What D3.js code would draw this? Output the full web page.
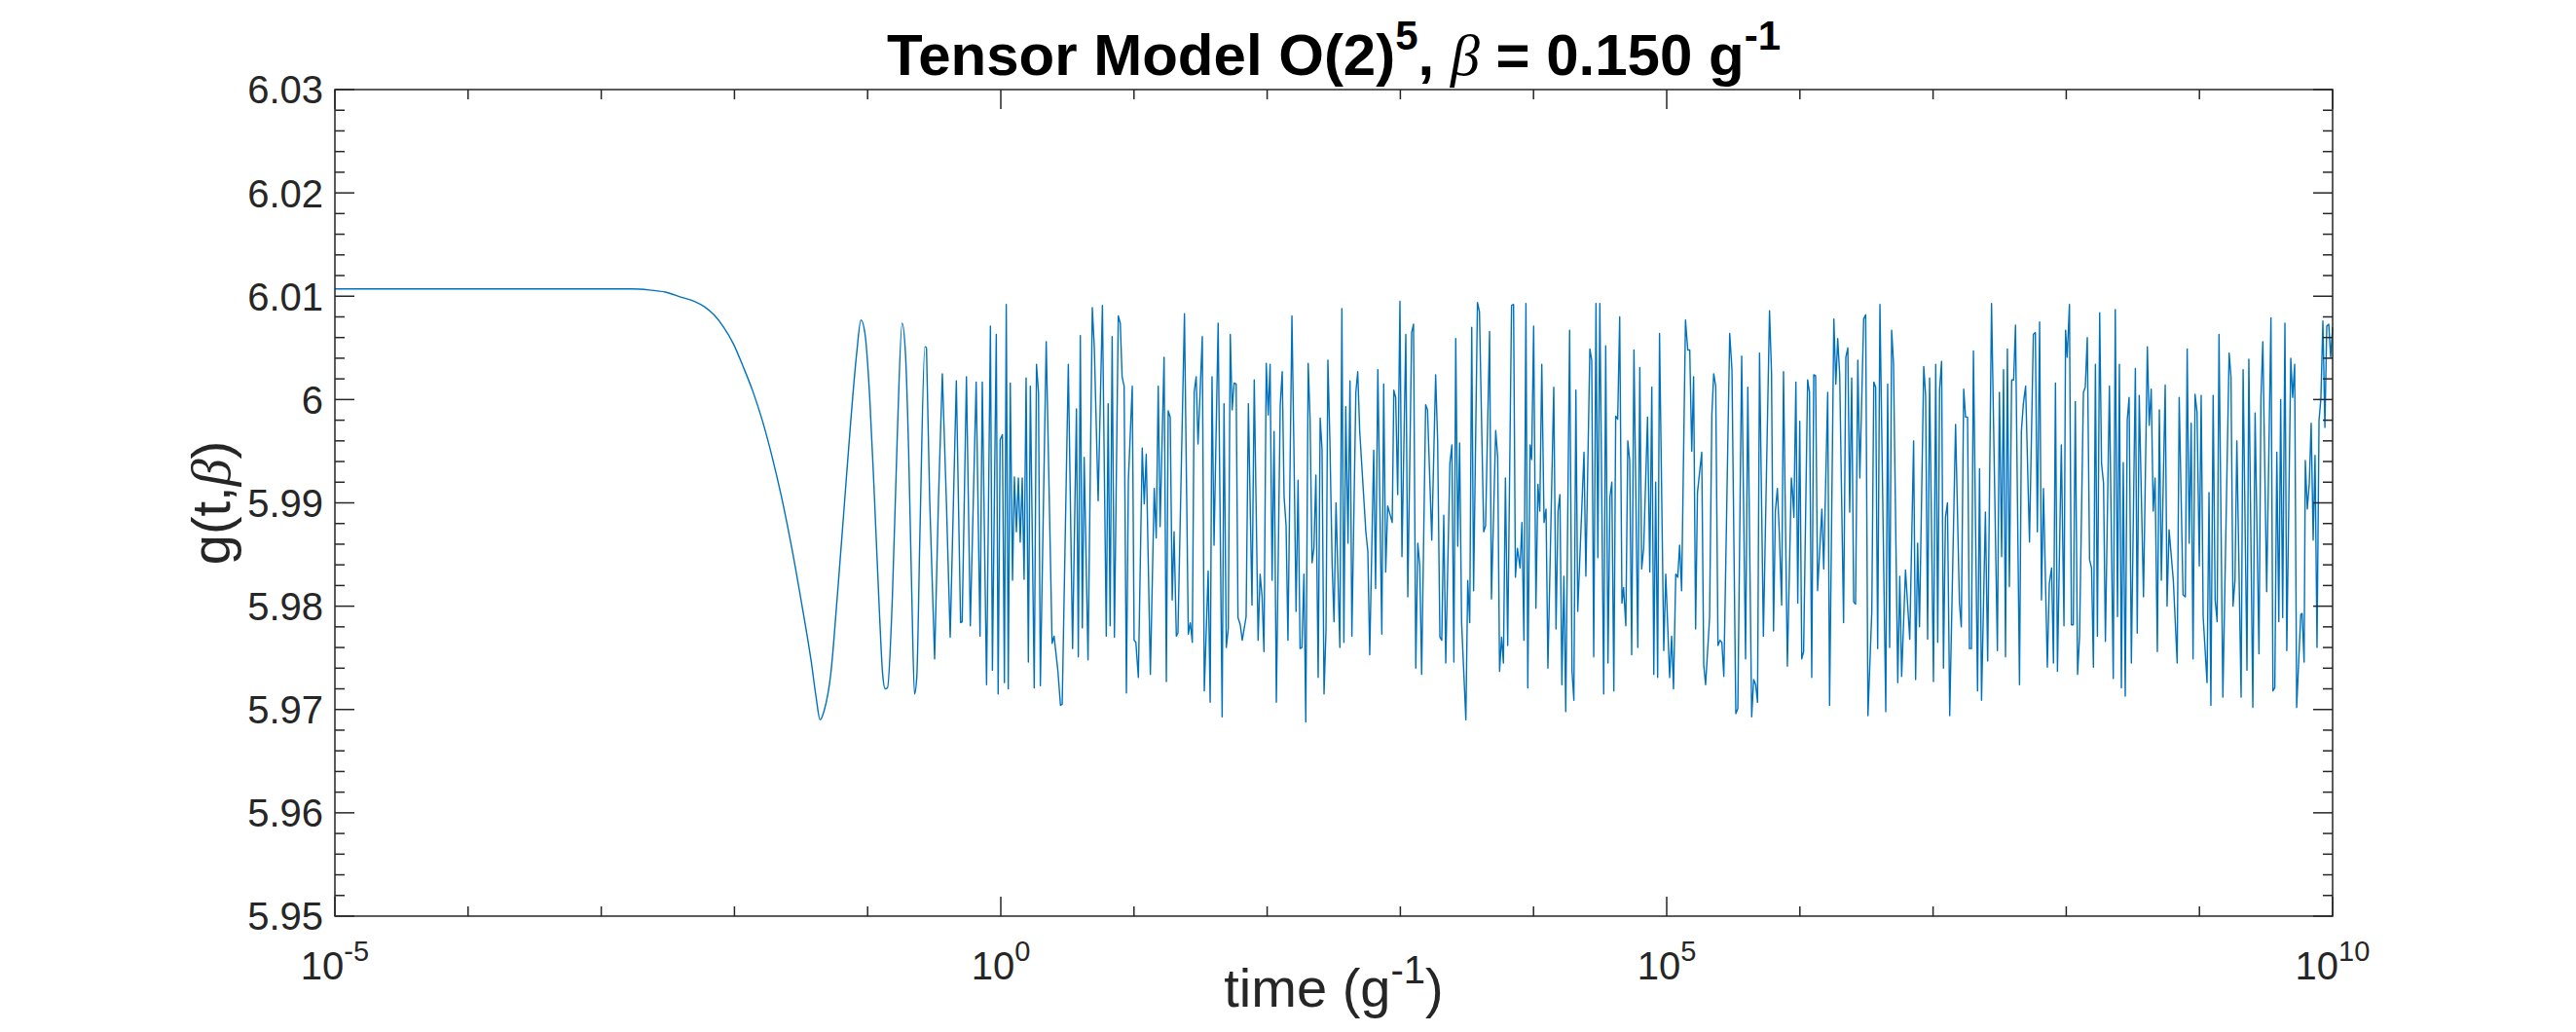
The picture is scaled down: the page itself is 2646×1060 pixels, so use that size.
<!DOCTYPE html>
<html>
<head>
<meta charset="utf-8">
<script src="https://cdn.jsdelivr.net/npm/d3@7"></script>
<style>
  html, body { margin: 0; padding: 0; background: #fff; }
</style>
</head>
<body>
<div id="chart"></div>
<script>
// Axis ticks
const yTicks = [5.95, 5.96, 5.97, 5.98, 5.99, 6.00, 6.01, 6.02, 6.03];
const yTickLabels = ['5.95', '5.96', '5.97', '5.98', '5.99', '6', '6.01', '6.02', '6.03'];
const xTickExps = [-5, 0, 5, 10];
const xMinorExps = [-4, -3, -2, -1, 1, 2, 3, 4, 6, 7, 8, 9];

// Series: [log10(time), g]
// smooth start: plateau, the big dip and the first slow oscillations
const smoothPart = [
  [-5.000, 6.0107], [-3.129, 6.0107], [-2.763, 6.0107], [-2.641, 6.0106], [-2.520, 6.0104],
  [-2.398, 6.0099], [-2.300, 6.0095], [-2.227, 6.0090], [-2.154, 6.0082], [-2.081, 6.0070],
  [-2.008, 6.0054], [-1.935, 6.0032], [-1.862, 6.0008], [-1.789, 5.9979], [-1.716, 5.9944],
  [-1.642, 5.9903], [-1.569, 5.9856], [-1.496, 5.9803], [-1.423, 5.9746], [-1.387, 5.9712],
  [-1.357, 5.9690], [-1.326, 5.9699], [-1.277, 5.9734], [-1.228, 5.9809], [-1.179, 5.9891],
  [-1.131, 5.9972], [-1.082, 6.0045], [-1.050, 6.0077], [-1.019, 6.0063], [-0.985, 6.0004],
  [-0.948, 5.9903], [-0.911, 5.9793], [-0.887, 5.9734], [-0.868, 5.9720], [-0.851, 5.9721],
  [-0.814, 5.9809], [-0.777, 5.9966], [-0.741, 6.0074], [-0.716, 6.0045], [-0.692, 5.9950],
  [-0.668, 5.9809], [-0.648, 5.9715], [-0.631, 5.9731], [-0.607, 5.9872], [-0.570, 6.0051],
  [-0.558, 6.0050]
];

// sampled (aliased) part, one array per stretch of the time axis
const noiseA = [
  [-0.558, 6.0050], [-0.534, 5.9903], [-0.497, 5.9749], [-0.468, 5.9903], [-0.439, 6.0025],
  [-0.409, 5.9903], [-0.380, 5.9770], [-0.334, 6.0018], [-0.302, 5.9784], [-0.290, 5.9785],
  [-0.258, 6.0022], [-0.229, 5.9781]
];

const noiseB = [
  [-0.185, 6.0017], [-0.156, 5.9771], [-0.139, 6.0017], [-0.107, 5.9724], [-0.078, 6.0071],
  [-0.063, 5.9738], [-0.034, 6.0063], [-0.020, 5.9715], [-0.005, 5.9961], [0.012, 5.9966],
  [0.027, 5.9726], [0.041, 6.0092], [0.056, 5.9720], [0.071, 6.0016], [0.088, 5.9825],
  [0.102, 5.9925], [0.117, 5.9872], [0.132, 5.9924], [0.146, 5.9862], [0.161, 5.9924],
  [0.175, 5.9826], [0.190, 6.0021], [0.207, 5.9746], [0.222, 6.0013], [0.251, 5.9721],
  [0.268, 6.0034], [0.283, 6.0007], [0.297, 5.9723], [0.341, 6.0056], [0.385, 5.9764],
  [0.400, 5.9771], [0.429, 5.9737], [0.448, 5.9704], [0.461, 5.9705], [0.507, 6.0034],
  [0.539, 5.9759], [0.568, 5.9991], [0.582, 5.9751], [0.597, 6.0062], [0.612, 5.9779],
  [0.626, 5.9944], [0.655, 5.9748], [0.687, 6.0089], [0.702, 6.0051], [0.731, 5.9902],
  [0.763, 6.0091], [0.792, 5.9771], [0.806, 5.9996], [0.821, 5.9781], [0.836, 6.0061],
  [0.853, 5.9770], [0.882, 6.0081], [0.897, 6.0074], [0.911, 6.0022], [0.926, 6.0013],
  [0.943, 5.9716], [0.958, 5.9922], [0.987, 6.0013], [1.001, 5.9767], [1.014, 5.9765],
  [1.033, 5.9731], [1.062, 5.9953], [1.077, 5.9899], [1.092, 5.9947], [1.123, 5.9734],
  [1.152, 5.9914], [1.167, 5.9866], [1.182, 6.0013], [1.196, 5.9877], [1.226, 6.0041],
  [1.243, 5.9727], [1.257, 5.9989], [1.272, 5.9983], [1.287, 5.9806], [1.301, 5.9872],
  [1.318, 5.9771], [1.330, 5.9774], [1.379, 6.0083], [1.408, 5.9773], [1.423, 5.9784],
  [1.438, 5.9765], [1.452, 6.0007], [1.467, 6.0022], [1.481, 5.9957], [1.513, 6.0061],
  [1.528, 5.9718], [1.557, 5.9834], [1.572, 5.9707], [1.586, 6.0022], [1.601, 5.9859],
  [1.632, 6.0074], [1.662, 5.9693], [1.676, 5.9996], [1.693, 5.9760], [1.708, 5.9778],
  [1.723, 6.0063], [1.737, 5.9990], [1.752, 6.0016], [1.767, 6.0015], [1.781, 5.9789],
  [1.798, 5.9782], [1.813, 5.9767]
];

const noiseC = [
  [1.842, 5.9790], [1.859, 5.9996], [1.886, 5.9801], [1.903, 6.0019], [1.932, 5.9767],
  [1.947, 5.9831], [1.962, 5.9809], [1.976, 5.9756], [1.993, 6.0035], [2.008, 5.9985],
  [2.022, 6.0034], [2.037, 5.9825], [2.052, 5.9969], [2.069, 5.9707], [2.098, 5.9994],
  [2.113, 6.0027], [2.127, 5.9906], [2.142, 5.9878], [2.156, 5.9767], [2.186, 6.0081],
  [2.200, 5.9960], [2.217, 5.9795], [2.232, 5.9922], [2.247, 5.9759], [2.261, 5.9760],
  [2.276, 5.9831], [2.290, 5.9688], [2.308, 6.0035], [2.322, 5.9982], [2.337, 5.9842],
  [2.351, 5.9856], [2.366, 5.9927], [2.383, 5.9731], [2.398, 5.9982], [2.412, 5.9952],
  [2.427, 5.9715], [2.442, 5.9778], [2.456, 6.0038], [2.471, 5.9960], [2.488, 5.9840],
  [2.502, 5.9785], [2.517, 5.9900], [2.546, 5.9760], [2.561, 6.0088], [2.576, 5.9765],
  [2.590, 5.9993], [2.607, 5.9861], [2.622, 6.0018], [2.636, 5.9771], [2.666, 6.0007],
  [2.680, 6.0027], [2.695, 5.9969], [2.741, 5.9872], [2.756, 5.9853], [2.770, 5.9753],
  [2.800, 5.9951], [2.814, 5.9817], [2.831, 6.0029], [2.861, 5.9773], [2.875, 6.0015],
  [2.890, 5.9833], [2.905, 5.9897], [2.939, 5.9881], [2.951, 6.0009], [2.965, 6.0002],
  [2.980, 5.9908], [2.997, 6.0095], [3.012, 5.9848], [3.041, 6.0063], [3.056, 5.9809],
  [3.085, 6.0065], [3.099, 6.0073], [3.116, 5.9740], [3.131, 5.9861], [3.146, 5.9839],
  [3.160, 5.9734], [3.190, 5.9995], [3.204, 5.9990], [3.236, 5.9864], [3.265, 6.0024],
  [3.280, 5.9960], [3.297, 5.9770], [3.311, 5.9767], [3.326, 5.9888], [3.341, 5.9745],
  [3.372, 5.9938], [3.387, 5.9956], [3.402, 5.9746], [3.416, 6.0059], [3.431, 5.9858],
  [3.445, 5.9958], [3.460, 5.9784], [3.492, 5.9690], [3.506, 5.9825], [3.521, 5.9784],
  [3.536, 6.0070], [3.550, 5.9815], [3.579, 6.0094], [3.594, 6.0085], [3.626, 5.9872],
  [3.640, 5.9878], [3.670, 6.0066], [3.684, 5.9807], [3.716, 5.9970], [3.731, 5.9944],
  [3.745, 5.9737], [3.760, 5.9770], [3.774, 5.9745], [3.789, 5.9924], [3.806, 5.9762],
  [3.835, 6.0091], [3.850, 6.0092], [3.864, 5.9828], [3.879, 5.9856]
];

const noiseD = [
  [3.899, 5.9837], [3.913, 5.9881], [3.928, 5.9767], [3.943, 6.0093], [3.957, 5.9721],
  [3.974, 5.9956], [3.986, 5.9942], [4.001, 6.0071], [4.018, 5.9798], [4.033, 5.9918],
  [4.047, 5.9892], [4.062, 6.0034], [4.079, 5.9881], [4.094, 5.9894], [4.108, 5.9740],
  [4.152, 6.0012], [4.169, 5.9778], [4.184, 5.9892], [4.198, 5.9908], [4.213, 5.9724],
  [4.228, 5.9829], [4.242, 5.9698], [4.271, 6.0067], [4.289, 5.9737], [4.303, 5.9709],
  [4.318, 6.0009], [4.332, 5.9795], [4.379, 5.9949], [4.393, 5.9829], [4.423, 6.0049],
  [4.437, 6.0038], [4.452, 5.9751], [4.469, 6.0093], [4.483, 5.9847], [4.498, 6.0093],
  [4.527, 5.9715], [4.542, 6.0052], [4.559, 5.9745], [4.574, 5.9906], [4.588, 5.9920],
  [4.603, 5.9718], [4.617, 5.9984], [4.632, 5.9981], [4.647, 6.0080], [4.664, 5.9803],
  [4.676, 5.9818], [4.693, 5.9781], [4.708, 5.9960], [4.722, 5.9941], [4.737, 5.9753],
  [4.754, 6.0048], [4.783, 5.9760], [4.798, 6.0031], [4.812, 5.9836], [4.827, 5.9856],
  [4.856, 5.9983], [4.873, 5.9833], [4.888, 6.0012], [4.903, 5.9734], [4.917, 5.9920],
  [4.932, 5.9731], [4.946, 6.0064], [4.978, 5.9757], [4.993, 5.9831], [5.022, 5.9731],
  [5.037, 5.9771], [5.051, 5.9720], [5.068, 5.9831], [5.083, 5.9828], [5.097, 5.9859],
  [5.112, 5.9815], [5.141, 6.0077], [5.158, 6.0048], [5.173, 6.0048], [5.188, 5.9950],
  [5.202, 6.0022], [5.217, 5.9778], [5.231, 5.9910], [5.263, 5.9949], [5.278, 5.9743],
  [5.292, 5.9724], [5.322, 5.9789], [5.339, 5.9985], [5.353, 6.0025], [5.368, 6.0013],
  [5.385, 5.9762], [5.400, 5.9767], [5.414, 5.9765], [5.429, 5.9732], [5.473, 6.0064],
  [5.490, 6.0029], [5.519, 5.9696], [5.534, 5.9701], [5.563, 6.0042], [5.592, 5.9749],
  [5.609, 6.0012], [5.638, 5.9693], [5.653, 5.9729], [5.668, 5.9724], [5.682, 5.9707],
  [5.697, 6.0045], [5.726, 5.9771], [5.772, 6.0086], [5.787, 6.0026], [5.802, 5.9776],
  [5.816, 5.9892], [5.831, 5.9914], [5.846, 5.9870], [5.863, 5.9801], [5.877, 6.0027],
  [5.906, 5.9742]
];

const noiseE = [
  [5.936, 5.9924], [5.945, 5.9910], [5.955, 5.9886], [5.970, 6.0017], [5.984, 5.9803],
  [5.999, 5.9979], [6.014, 5.9749], [6.028, 5.9756], [6.058, 6.0019], [6.072, 6.0007],
  [6.089, 5.9731], [6.104, 6.0024], [6.118, 6.0023], [6.133, 5.9815], [6.165, 5.9894],
  [6.179, 5.9836], [6.209, 6.0007], [6.223, 5.9704], [6.255, 6.0078], [6.270, 6.0015],
  [6.284, 6.0059], [6.299, 6.0024], [6.328, 5.9784], [6.345, 6.0041], [6.360, 6.0050],
  [6.374, 5.9891], [6.389, 6.0021], [6.404, 5.9804], [6.418, 5.9802], [6.435, 6.0038],
  [6.450, 5.9924], [6.479, 6.0078], [6.494, 6.0082], [6.511, 5.9694], [6.540, 5.9795],
  [6.555, 6.0017], [6.569, 6.0012], [6.584, 5.9759], [6.601, 6.0092], [6.645, 5.9698],
  [6.659, 6.0015], [6.674, 5.9760], [6.689, 6.0067], [6.703, 6.0035], [6.735, 5.9726],
  [6.750, 5.9829], [6.764, 5.9732], [6.793, 5.9835], [6.825, 5.9768], [6.854, 5.9960],
  [6.869, 5.9729], [6.884, 5.9861], [6.898, 5.9780], [6.930, 6.0032], [6.944, 6.0004],
  [6.959, 5.9768], [6.974, 6.0021], [7.003, 5.9727], [7.020, 6.0034], [7.035, 5.9765],
  [7.049, 6.0010], [7.064, 6.0037], [7.078, 5.9740], [7.093, 5.9886], [7.108, 5.9900],
  [7.125, 5.9694], [7.169, 5.9976], [7.198, 5.9803], [7.212, 5.9780], [7.230, 6.0010],
  [7.244, 5.9983], [7.259, 5.9983], [7.273, 5.9759], [7.288, 5.9759], [7.303, 6.0047],
  [7.334, 5.9718], [7.349, 5.9933], [7.364, 5.9709], [7.393, 5.9891], [7.410, 5.9747],
  [7.439, 6.0093], [7.483, 5.9757], [7.498, 6.0007], [7.515, 5.9848], [7.529, 6.0029],
  [7.544, 5.9751], [7.558, 6.0049], [7.573, 5.9819], [7.590, 6.0019], [7.605, 6.0019],
  [7.619, 6.0072], [7.649, 5.9724], [7.663, 5.9969], [7.678, 5.9996], [7.695, 6.0013],
  [7.724, 5.9862], [7.753, 6.0063], [7.768, 6.0065], [7.783, 5.9872], [7.800, 6.0075],
  [7.814, 5.9806], [7.829, 5.9914], [7.858, 5.9741], [7.873, 5.9822], [7.890, 5.9837],
  [7.904, 5.9745], [7.919, 6.0016], [7.934, 5.9737], [7.963, 5.9956]
];

const noiseF = [
  [7.983, 5.9781], [7.995, 6.0067], [8.007, 6.0041], [8.024, 6.0092], [8.039, 5.9782],
  [8.053, 5.9782], [8.068, 5.9998], [8.085, 5.9734], [8.100, 5.9771], [8.129, 6.0007],
  [8.143, 6.0012], [8.158, 6.0060], [8.175, 5.9845], [8.190, 5.9837], [8.204, 5.9741],
  [8.219, 6.0034], [8.234, 5.9771], [8.251, 6.0084], [8.265, 5.9938], [8.280, 5.9919],
  [8.294, 5.9766], [8.324, 6.0013], [8.353, 5.9730], [8.368, 6.0087], [8.385, 5.9790],
  [8.399, 6.0034], [8.414, 5.9721], [8.428, 5.9939], [8.443, 5.9713], [8.458, 5.9980],
  [8.472, 6.0002], [8.489, 5.9745], [8.519, 6.0030], [8.533, 5.9774], [8.548, 6.0004],
  [8.580, 5.9809], [8.609, 6.0051], [8.623, 5.9975], [8.638, 6.0010], [8.653, 5.9892],
  [8.667, 5.9924], [8.684, 5.9756], [8.699, 5.9990], [8.714, 5.9825], [8.743, 6.0014],
  [8.757, 5.9800], [8.772, 5.9874], [8.804, 5.9825], [8.833, 5.9745], [8.848, 6.0002],
  [8.877, 5.9811], [8.894, 5.9809], [8.908, 6.0049], [8.923, 5.9861], [8.938, 5.9977],
  [8.952, 5.9749], [8.967, 6.0005], [8.982, 5.9988], [8.999, 5.9839], [9.013, 6.0004],
  [9.028, 5.9790], [9.057, 5.9726], [9.072, 5.9910], [9.086, 5.9704], [9.103, 6.0004],
  [9.118, 5.9806], [9.133, 5.9785], [9.147, 6.0063], [9.176, 5.9712], [9.223, 6.0045],
  [9.237, 6.0022], [9.252, 5.9800], [9.267, 5.9825], [9.281, 5.9960], [9.313, 5.9712],
  [9.328, 6.0029], [9.357, 5.9738], [9.371, 6.0039], [9.401, 5.9702], [9.418, 5.9987],
  [9.447, 5.9754], [9.462, 6.0002], [9.476, 6.0056], [9.505, 5.9814], [9.537, 6.0079],
  [9.552, 5.9718], [9.566, 5.9721], [9.581, 5.9949], [9.596, 5.9785], [9.610, 6.0000],
  [9.625, 5.9789], [9.642, 6.0074], [9.656, 5.9757], [9.686, 6.0040], [9.700, 6.0002],
  [9.715, 6.0034], [9.730, 5.9702], [9.761, 5.9792], [9.771, 5.9793], [9.786, 5.9746],
  [9.795, 5.9941], [9.810, 5.9894], [9.825, 5.9919], [9.839, 5.9977], [9.854, 5.9864],
  [9.868, 5.9946], [9.883, 5.9760], [9.898, 5.9980], [9.912, 6.0001], [9.927, 6.0076],
  [9.942, 5.9973], [9.956, 6.0071], [9.971, 6.0073], [9.985, 6.0041], [10.000, 6.0070]
];

const W = 2646, H = 1060;
const plot = { left: 344, right: 2396, top: 92, bottom: 941 };
const FONT = "'Liberation Sans', Arial, Helvetica, sans-serif";
const SERIF = "'Liberation Serif', 'DejaVu Serif', serif";
const AXIS_COLOR = '#262626';
const LINE_COLOR = '#0072BD';

const svg = d3.select('#chart').append('svg')
  .attr('width', W)
  .attr('height', H)
  .style('background', '#fff');

const x = d3.scaleLog().domain([1e-5, 1e10]).range([plot.left, plot.right]);
const y = d3.scaleLinear().domain([5.95, 6.03]).range([plot.bottom, plot.top]);

// Data line
const px = d => x(Math.pow(10, d[0]));
const py = d => y(d[1]);
const smoothLine = d3.line().x(px).y(py).curve(d3.curveMonotoneX);
const sampleLine = d3.line().x(px).y(py);
const noisy = [].concat(noiseA, noiseB, noiseC, noiseD, noiseE, noiseF);

const lineG = svg.append('g')
  .attr('fill', 'none')
  .attr('stroke', LINE_COLOR)
  .attr('stroke-width', 1.4)
  .attr('stroke-linejoin', 'round');
lineG.append('path').attr('d', smoothLine(smoothPart));
lineG.append('path').attr('d', sampleLine(noisy));

// Axes box
const axG = svg.append('g').attr('stroke', AXIS_COLOR).attr('stroke-width', 1.5);
axG.append('rect')
  .attr('x', plot.left).attr('y', plot.top)
  .attr('width', plot.right - plot.left).attr('height', plot.bottom - plot.top)
  .attr('fill', 'none');

const MAJOR = 20, MINOR = 10;

// Y ticks (left + right, inward)
const yMinor = d3.range(0, 41).map(i => 5.95 + i * 0.002).filter((v, i) => i % 5 !== 0);
[[yTicks, MAJOR], [yMinor, MINOR]].forEach(([vals, len]) => {
  vals.forEach(v => {
    const yy = y(v);
    axG.append('line').attr('x1', plot.left).attr('x2', plot.left + len).attr('y1', yy).attr('y2', yy);
    axG.append('line').attr('x1', plot.right).attr('x2', plot.right - len).attr('y1', yy).attr('y2', yy);
  });
});

// X ticks (bottom + top, inward)
[[xTickExps, MAJOR], [xMinorExps, MINOR]].forEach(([vals, len]) => {
  vals.forEach(e => {
    const xx = x(Math.pow(10, e));
    axG.append('line').attr('x1', xx).attr('x2', xx).attr('y1', plot.bottom).attr('y2', plot.bottom - len);
    axG.append('line').attr('x1', xx).attr('x2', xx).attr('y1', plot.top).attr('y2', plot.top + len);
  });
});

// Y tick labels
svg.append('g')
  .selectAll('text')
  .data(yTicks)
  .join('text')
  .attr('x', plot.left - 12)
  .attr('y', d => y(d))
  .attr('dy', '0.36em')
  .attr('text-anchor', 'end')
  .attr('font-family', FONT)
  .attr('font-size', 40)
  .attr('fill', AXIS_COLOR)
  .text((d, i) => yTickLabels[i]);

// X tick labels: 10^e
const xl = svg.append('g')
  .selectAll('text')
  .data(xTickExps)
  .join('text')
  .attr('x', d => x(Math.pow(10, d)))
  .attr('y', 1006)
  .attr('text-anchor', 'middle')
  .attr('font-family', FONT)
  .attr('font-size', 40)
  .attr('fill', AXIS_COLOR);
xl.append('tspan').text('10');
xl.append('tspan').attr('dy', -19).attr('font-size', 29).text(d => d);

// X label
const xlab = svg.append('text')
  .attr('x', (plot.left + plot.right) / 2)
  .attr('y', 1034)
  .attr('text-anchor', 'middle')
  .attr('font-family', FONT)
  .attr('font-size', 56)
  .attr('fill', AXIS_COLOR);
xlab.append('tspan').text('time (g');
xlab.append('tspan').attr('dy', -24).attr('font-size', 40).text('-1');
xlab.append('tspan').attr('dy', 24).text(')');

// Y label
const ylab = svg.append('text')
  .attr('transform', `translate(236,${(plot.top + plot.bottom) / 2}) rotate(-90)`)
  .attr('text-anchor', 'middle')
  .attr('font-family', FONT)
  .attr('font-size', 56)
  .attr('fill', AXIS_COLOR);
ylab.append('tspan').text('g(t,');
ylab.append('tspan').attr('font-family', SERIF).attr('font-style', 'italic').text('β');
ylab.append('tspan').text(')');

// Title
const title = svg.append('text')
  .attr('x', (plot.left + plot.right) / 2)
  .attr('y', 77)
  .attr('text-anchor', 'middle')
  .attr('font-family', FONT)
  .attr('font-size', 60)
  .attr('font-weight', 'bold')
  .attr('fill', '#000');
title.append('tspan').text('Tensor Model O(2)');
title.append('tspan').attr('dy', -26).attr('font-size', 42).text('5');
title.append('tspan').attr('dy', 26).text(', ');
title.append('tspan').attr('font-family', SERIF).attr('font-style', 'italic').attr('font-weight', 'normal').text('β');
title.append('tspan').text(' = 0.150 g');
title.append('tspan').attr('dy', -26).attr('font-size', 42).text('-1');
</script>
</body>
</html>
